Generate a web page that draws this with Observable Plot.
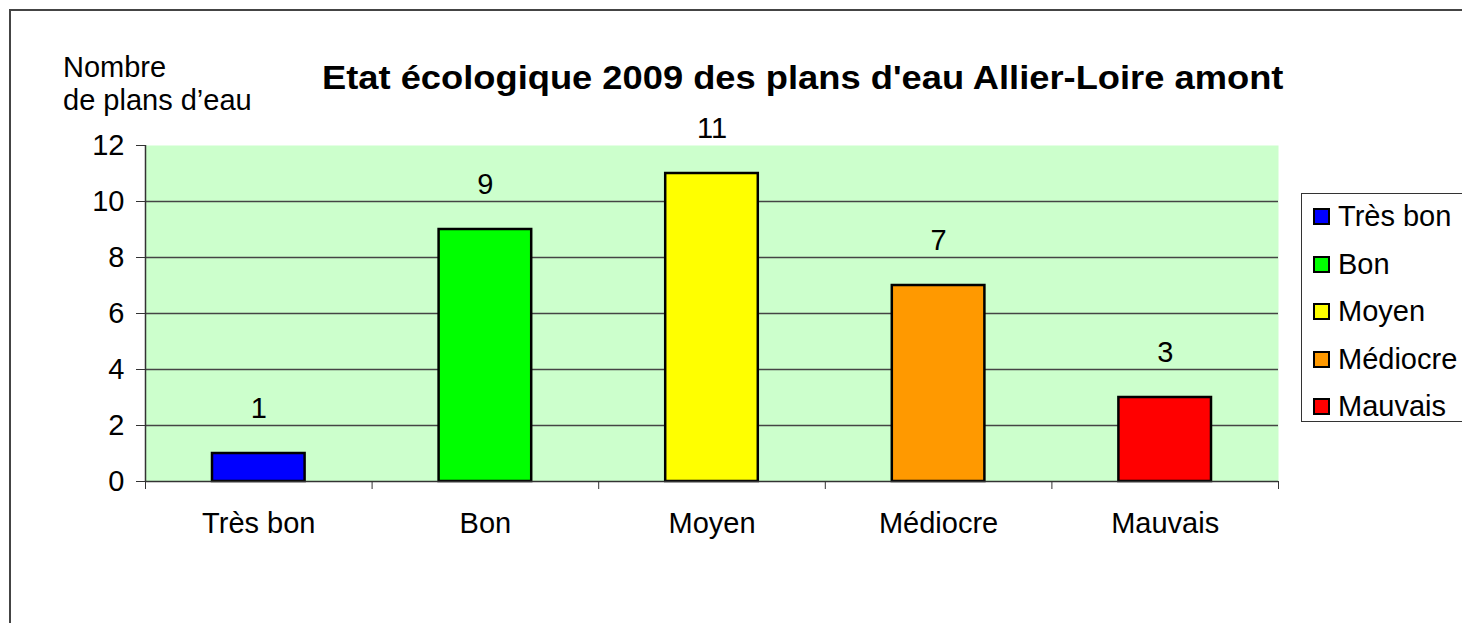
<!DOCTYPE html>
<html>
<head>
<meta charset="utf-8">
<script src="https://cdn.jsdelivr.net/npm/d3@7"></script>
<script src="https://cdn.jsdelivr.net/npm/@observablehq/plot@0.6"></script>
<style>
  html, body { margin: 0; padding: 0; background: #fff; overflow: hidden; }
  body { width: 1462px; height: 623px; position: relative; font-family: "Liberation Sans", Arial, sans-serif; }
  #border { position: absolute; left: 9px; top: 9px; width: 1500px; height: 700px; border: 2px solid #444; box-sizing: border-box; }
  #chart { position: absolute; left: 0; top: 0; }
  #title { position: absolute; left: 322px; top: 58px; font-weight: bold; font-size: 33px; line-height: 40px; color: #000; white-space: nowrap; transform: scaleX(1.1); transform-origin: left center; }
  #ylabel { position: absolute; left: 63px; top: 51px; font-size: 29px; line-height: 33px; color: #000; white-space: nowrap; }
  #legend { position: absolute; left: 1301px; top: 193px; width: 200px; height: 229px; border: 1.5px solid #333; box-sizing: border-box; background: #fff; }
  .item { position: absolute; left: 11px; font-size: 29px; line-height: 33px; color: #000; white-space: nowrap; display: flex; align-items: center; }
  .sw { width: 13px; height: 13px; border: 2.5px solid #000; margin-right: 8px; }
</style>
</head>
<body>
<div id="border"></div>
<div id="chart"></div>
<div id="title"></div>
<div id="ylabel"></div>
<div id="legend"></div>
<script>
const categories = ["Très bon", "Bon", "Moyen", "Médiocre", "Mauvais"];
const values = [1, 9, 11, 7, 3];
const colors = ["#0000ff", "#00ff00", "#ffff00", "#ff9900", "#ff0000"];
const yTicks = [0, 2, 4, 6, 8, 10, 12];
const gridValues = [2, 4, 6, 8, 10];
const titleText = "Etat écologique 2009 des plans d'eau Allier-Loire amont";
const yLabelLines = ["Nombre", "de plans d’eau"];

const data = categories.map((c, i) => ({cat: c, idx: i, value: values[i], color: colors[i]}));

const plot = Plot.plot({
  width: 1462,
  height: 623,
  marginLeft: 145,
  marginRight: 184,
  marginTop: 145,
  marginBottom: 142,
  style: {fontFamily: "'Liberation Sans', Arial, sans-serif", fontSize: "29px", color: "#000", background: "transparent"},
  x: {type: "linear", domain: [0, categories.length], axis: null, label: null},
  y: {domain: [0, 12], axis: null, label: null},
  marks: [
    Plot.frame({fill: "#ccffcc", stroke: null}),
    Plot.ruleY(gridValues, {stroke: "#444", strokeWidth: 1.3}),
    Plot.rectY(data, {x1: "idx", x2: d => d.idx + 1, y: "value", fill: "color", stroke: "#000", strokeWidth: 2.5, insetLeft: 67, insetRight: 67}),
    Plot.text(data, {x: d => d.idx + 0.5, y: "value", text: d => String(d.value), dy: -45, fontSize: 29, fill: "#000"}),
    Plot.ruleY([0], {stroke: "#333", strokeWidth: 1.5}),
    Plot.ruleX([0], {stroke: "#333", strokeWidth: 1.5}),
    Plot.axisY({ticks: yTicks, tickSize: 9, tickPadding: 12, fontSize: 29, stroke: "#333", label: null, tickFormat: d => String(d)}),
    Plot.axisX({ticks: d3.range(categories.length + 1), tickSize: 8, label: null, tickFormat: () => "", stroke: "#333"}),
    Plot.axisX({ticks: categories.map((_, i) => i + 0.5), tickSize: 0, tickPadding: 31, fontSize: 29, label: null, tickFormat: d => categories[Math.floor(d)]})
  ]
});
document.getElementById("chart").appendChild(plot);

document.getElementById("title").textContent = titleText;
document.getElementById("ylabel").innerHTML = yLabelLines.join("<br>");

const legend = document.getElementById("legend");
categories.forEach((c, i) => {
  const it = document.createElement("div");
  it.className = "item";
  it.style.top = (6 + i * 47.5) + "px";
  const sw = document.createElement("div");
  sw.className = "sw";
  sw.style.background = colors[i];
  const t = document.createElement("span");
  t.textContent = c;
  it.appendChild(sw);
  it.appendChild(t);
  legend.appendChild(it);
});
</script>
</body>
</html>
